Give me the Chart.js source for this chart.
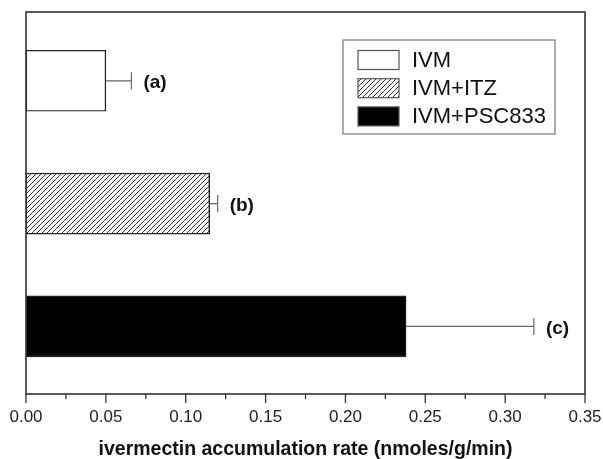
<!DOCTYPE html>
<html>
<head>
<meta charset="utf-8">
<script src="https://cdn.jsdelivr.net/npm/chart.js@4/dist/chart.umd.min.js"></script>
<style>
html,body{margin:0;padding:0;background:#fff;}
#wrap{width:603px;height:459px;}
</style>
</head>
<body>
<div id="wrap"><canvas id="c" width="603" height="459"></canvas></div>
<script>
// ---- data ----
const categories = ["IVM", "IVM+ITZ", "IVM+PSC833"];
const values = [0.050, 0.115, 0.238];
const errors = [0.016, 0.005, 0.080];
const letters = ["(a)", "(b)", "(c)"];
const xTickMin = 0.00, xTickMax = 0.35, xTickStep = 0.05;
const xTitle = "ivermectin accumulation rate (nmoles/g/min)";

// ---- styles ----
function hatch() {
  const s = 5;
  const p = document.createElement('canvas');
  p.width = s; p.height = s;
  const g = p.getContext('2d');
  g.fillStyle = '#fff'; g.fillRect(0, 0, s, s);
  g.strokeStyle = '#333'; g.lineWidth = 1;
  g.beginPath();
  g.moveTo(-1, s + 1); g.lineTo(s + 1, -1);
  g.moveTo(-1, 1); g.lineTo(1, -1);
  g.moveTo(s - 1, s + 1); g.lineTo(s + 1, s - 1);
  g.stroke();
  return document.getElementById('c').getContext('2d').createPattern(p, 'repeat');
}
const fills = ['#ffffff', hatch(), '#000000'];
const FONT = '"Liberation Sans", Arial, sans-serif';

const extras = {
  id: 'extras',
  afterDatasetsDraw(chart) {
    const ctx = chart.ctx;
    const xs = chart.scales.x, ys = chart.scales.y;
    const a = chart.chartArea;
    ctx.save();
    // error bars + letters
    values.forEach((v, i) => {
      const y = ys.getPixelForValue(i + 1);
      const x0 = xs.getPixelForValue(v);
      const x1 = xs.getPixelForValue(v + errors[i]);
      ctx.strokeStyle = '#666'; ctx.lineWidth = 1.2;
      ctx.beginPath();
      ctx.moveTo(x0, y); ctx.lineTo(x1, y);
      ctx.moveTo(x1, y - 8.5); ctx.lineTo(x1, y + 8.5);
      ctx.stroke();
      ctx.fillStyle = '#111';
      ctx.font = 'bold 19px ' + FONT;
      ctx.textBaseline = 'middle'; ctx.textAlign = 'left';
      ctx.fillText(letters[i], x1 + 12, y + 2);
    });
    // frame
    ctx.strokeStyle = '#333'; ctx.lineWidth = 1.6;
    ctx.strokeRect(a.left, a.top, a.right - a.left, a.bottom - a.top);
    // x ticks (outward), major and minor
    ctx.lineWidth = 1.3;
    for (let k = 0; k <= Math.round((xTickMax - xTickMin) / (xTickStep / 2)); k++) {
      const v = xTickMin + k * xTickStep / 2;
      const x = xs.getPixelForValue(v);
      const len = (k % 2 === 0) ? 9 : 5;
      ctx.beginPath();
      ctx.moveTo(x, a.bottom); ctx.lineTo(x, a.bottom + len);
      ctx.stroke();
    }
    // legend
    const lx = 343, ly = 40, lw = 212, lh = 94;
    ctx.strokeStyle = '#777'; ctx.lineWidth = 1.2;
    ctx.strokeRect(lx, ly, lw, lh);
    categories.forEach((c, i) => {
      const cy = ly + 20 + i * 28.2;
      ctx.fillStyle = fills[i];
      ctx.fillRect(358, cy - 9.5, 41, 19);
      ctx.strokeStyle = '#555'; ctx.lineWidth = 1.2;
      ctx.strokeRect(358, cy - 9.5, 41, 19);
      ctx.fillStyle = '#111';
      ctx.font = '22px ' + FONT;
      ctx.textAlign = 'left'; ctx.textBaseline = 'middle';
      ctx.fillText(c, 412, cy + 1);
    });
    ctx.restore();
  }
};

new Chart(document.getElementById('c'), {
  type: 'bar',
  data: {
    datasets: [{
      data: values.map((v, i) => ({ x: v, y: i + 1 })),
      backgroundColor: fills,
      borderColor: '#222',
      borderWidth: 1.4,
      borderSkipped: false,
      barThickness: 61
    }]
  },
  options: {
    indexAxis: 'y',
    responsive: false,
    animation: false,
    devicePixelRatio: 1,
    layout: { padding: { left: 26, right: 18, top: 12, bottom: 0 } },
    plugins: { legend: { display: false }, tooltip: { enabled: false } },
    scales: {
      y: {
        type: 'linear', display: false, reverse: true, offset: false,
        min: 0.44, max: 3.55
      },
      x: {
        type: 'linear', min: xTickMin, max: xTickMax,
        grid: { display: false, drawTicks: false },
        border: { display: false },
        ticks: {
          stepSize: xTickStep,
          padding: 13.5,
          color: '#222',
          font: { family: FONT, size: 17 },
          callback: v => v.toFixed(2)
        },
        title: {
          display: true, text: xTitle, color: '#111',
          font: { family: FONT, size: 19.5, weight: 'bold', lineHeight: 1 },
          padding: { top: 0, bottom: 0 }
        },
        afterFit: s => { s.height = 65; s.paddingLeft = 0; s.paddingRight = 0; }
      }
    }
  },
  plugins: [extras]
});
</script>
</body>
</html>
